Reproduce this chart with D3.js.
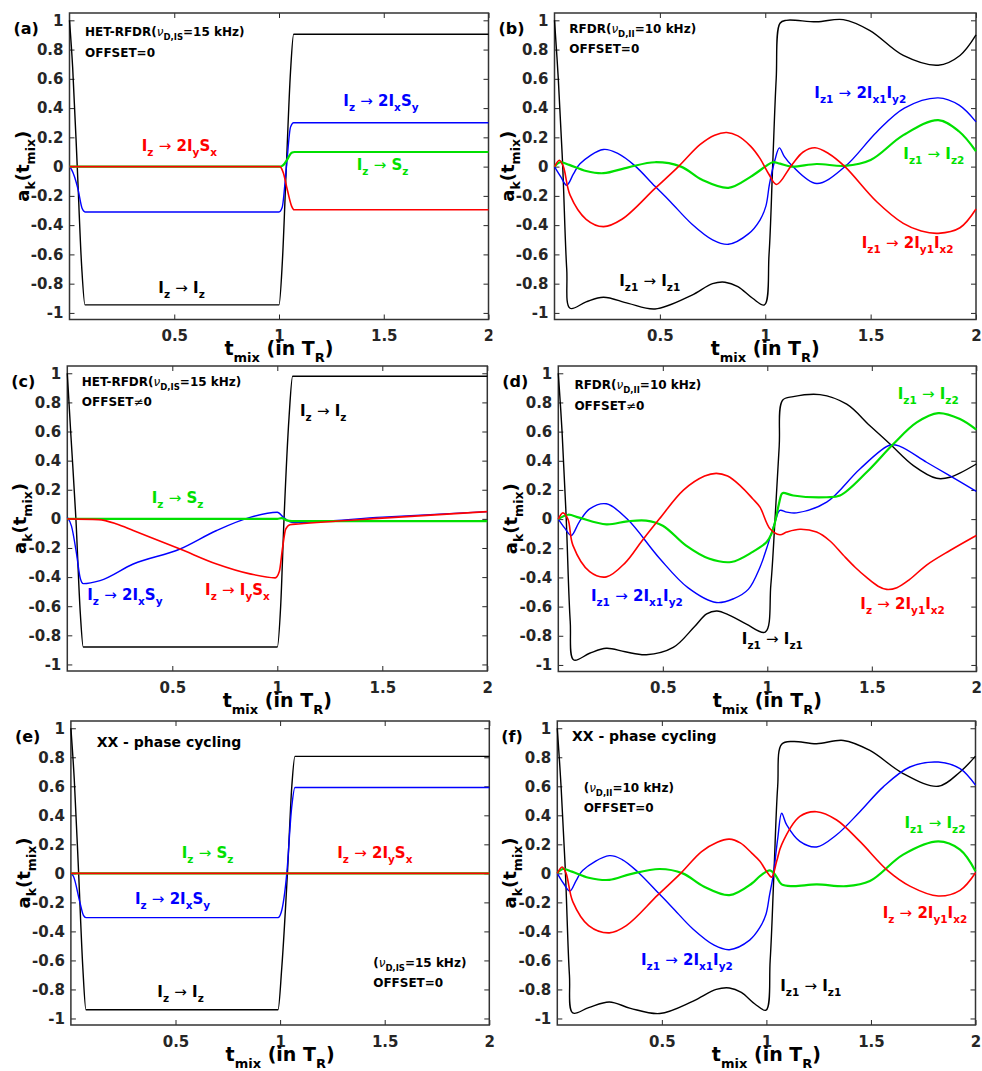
<!DOCTYPE html>
<html>
<head>
<meta charset="utf-8">
<script src="https://cdn.jsdelivr.net/npm/d3@7"></script>
<style>
  body { margin: 0; background: #fff; }
  text { font-family: "DejaVu Sans", sans-serif; font-weight: bold; white-space: pre; }
</style>
</head>
<body>
<div id="my_dataviz"></div>
<script>
// ---- data: [t_mix (in T_R), a_k] ----
// (a) HET-RFDR, offset 0
var aBlack = [[0,1],[0.015,0.68],[0.037,0],[0.058,-0.68],[0.074,-0.945],[1.0,-0.945],[1.016,-0.65],[1.035,0],[1.055,0.65],[1.07,0.905],[2,0.905]];
var aBlue  = [[0,0],[0.01,-0.02],[0.04,-0.15],[0.06,-0.285],[0.074,-0.31],[1.0,-0.31],[1.015,-0.28],[1.035,-0.01],[1.055,0.27],[1.07,0.3],[2,0.3]];
var aGreen = [[0,0],[1.005,0],[1.02,0.01],[1.04,0.05],[1.06,0.095],[1.075,0.1],[2,0.1]];
var aRed   = [[0,0],[1.003,0],[1.02,-0.04],[1.04,-0.16],[1.06,-0.27],[1.072,-0.295],[2,-0.295]];

// (b) RFDR, offset 0
var bBlack = [[0,1],[0.018,0.6],[0.039,0],[0.058,-0.7],[0.074,-0.968],[0.15,-0.925],[0.232,-0.893],[0.35,-0.935],[0.477,-0.973],[0.65,-0.88],[0.75,-0.8],[0.809,-0.79],[0.87,-0.82],[0.94,-0.9],[0.996,-0.945],[1.018,-0.6],[1.035,0],[1.052,0.6],[1.07,0.98],[1.1,1.0],[1.244,0.99],[1.37,1.005],[1.497,0.93],[1.655,0.76],[1.821,0.693],[1.924,0.76],[2,0.9]];
var bBlue  = [[0,0],[0.03,-0.07],[0.058,-0.127],[0.09,-0.05],[0.121,0.02],[0.232,0.117],[0.3,0.09],[0.382,0.005],[0.477,-0.135],[0.55,-0.24],[0.65,-0.39],[0.75,-0.5],[0.825,-0.531],[0.92,-0.46],[0.975,-0.365],[1.003,-0.27],[1.02,-0.12],[1.045,0.04],[1.067,0.128],[1.09,0.07],[1.125,0.01],[1.244,-0.115],[1.378,0],[1.529,0.237],[1.66,0.4],[1.821,0.47],[1.92,0.42],[2,0.306]];
var bGreen = [[0,0],[0.026,0.03],[0.07,0.012],[0.15,-0.03],[0.232,-0.045],[0.35,-0.005],[0.477,0.03],[0.6,0],[0.7,-0.09],[0.825,-0.145],[0.93,-0.07],[1.0,0.0],[1.035,0.03],[1.07,0.02],[1.125,0],[1.244,0.018],[1.378,0.005],[1.5,0.045],[1.655,0.215],[1.821,0.318],[1.92,0.24],[2,0.105]];
var bRed   = [[0,0],[0.023,0.044],[0.042,0],[0.074,-0.195],[0.15,-0.36],[0.232,-0.41],[0.32,-0.36],[0.477,-0.149],[0.588,0],[0.69,0.15],[0.76,0.215],[0.817,0.233],[0.87,0.21],[0.93,0.14],[0.975,0.056],[1.015,-0.047],[1.054,-0.122],[1.125,0.01],[1.18,0.1],[1.236,0.129],[1.3,0.09],[1.378,0],[1.529,-0.24],[1.655,-0.388],[1.74,-0.44],[1.821,-0.456],[1.924,-0.418],[2,-0.29]];

// (c) HET-RFDR, offset != 0
var cBlack = [[0,1],[0.016,0.6],[0.041,0],[0.062,-0.65],[0.076,-0.88],[1.0,-0.88],[1.016,-0.6],[1.032,0],[1.056,0.7],[1.073,0.98],[2,0.98]];
var cBlue  = [[0,0.01],[0.02,-0.05],[0.044,-0.24],[0.062,-0.41],[0.076,-0.445],[0.156,-0.424],[0.314,-0.31],[0.537,-0.207],[0.711,-0.08],[0.87,0.01],[1.0,0.045],[1.03,0.01],[1.06,-0.02],[1.08,-0.025],[1.5,0.012],[2,0.05]];
var cGreen = [[0,0],[1.0,0],[1.02,0.005],[1.045,-0.01],[1.07,-0.015],[2,-0.015]];
var cRed   = [[0,0],[0.15,-0.005],[0.235,-0.035],[0.314,-0.08],[0.537,-0.207],[0.711,-0.31],[0.87,-0.378],[0.99,-0.405],[1.01,-0.36],[1.025,-0.2],[1.04,-0.07],[1.06,-0.04],[1.1,-0.035],[1.5,0.005],[2,0.05]];

// (d) RFDR, offset != 0
var dBlack = [[0,1],[0.018,0.6],[0.038,0],[0.057,-0.7],[0.074,-0.966],[0.15,-0.92],[0.23,-0.886],[0.32,-0.91],[0.421,-0.93],[0.55,-0.88],[0.65,-0.74],[0.71,-0.65],[0.759,-0.63],[0.82,-0.66],[0.9,-0.72],[0.99,-0.775],[1.017,-0.45],[1.037,0],[1.057,0.5],[1.073,0.815],[1.124,0.84],[1.252,0.854],[1.38,0.788],[1.491,0.64],[1.587,0.515],[1.699,0.367],[1.81,0.28],[1.874,0.287],[2,0.378]];
var dBlue  = [[0,0],[0.03,-0.06],[0.062,-0.112],[0.1,-0.02],[0.15,0.07],[0.23,0.105],[0.33,0],[0.485,-0.27],[0.62,-0.47],[0.756,-0.572],[0.84,-0.545],[0.91,-0.48],[0.965,-0.33],[0.997,-0.2],[1.037,-0.02],[1.06,0.06],[1.093,0.048],[1.14,0.043],[1.284,0.116],[1.443,0.344],[1.587,0.508],[1.635,0.499],[1.762,0.39],[1.858,0.31],[2,0.19]];
var dGreen = [[0,0],[0.047,0.03],[0.1,0.01],[0.23,-0.036],[0.33,-0.015],[0.42,-0.01],[0.5,-0.045],[0.61,-0.18],[0.72,-0.27],[0.828,-0.294],[0.93,-0.225],[0.997,-0.157],[1.02,-0.1],[1.037,-0.02],[1.055,0.1],[1.069,0.173],[1.077,0.18],[1.124,0.162],[1.284,0.15],[1.348,0.162],[1.475,0.321],[1.603,0.515],[1.715,0.663],[1.818,0.727],[1.922,0.686],[2,0.613]];
var dRed   = [[0,0],[0.022,0.043],[0.046,0],[0.07,-0.18],[0.15,-0.36],[0.23,-0.396],[0.32,-0.3],[0.4,-0.15],[0.483,0],[0.6,0.2],[0.7,0.295],[0.756,0.314],[0.81,0.295],[0.87,0.23],[0.93,0.14],[0.965,0.082],[1.013,-0.066],[1.06,-0.107],[1.093,-0.089],[1.156,-0.07],[1.236,-0.089],[1.3,-0.15],[1.364,-0.248],[1.42,-0.33],[1.475,-0.4],[1.53,-0.46],[1.571,-0.482],[1.62,-0.47],[1.68,-0.415],[1.762,-0.315],[1.874,-0.215],[2,-0.112]];

// (e) XX phase cycling, HET-RFDR
var eBlack = [[0,1],[0.016,0.65],[0.037,0],[0.057,-0.65],[0.072,-0.94],[0.99,-0.94],[1.008,-0.65],[1.035,0],[1.056,0.6],[1.071,0.806],[2,0.806]];
var eBlue  = [[0,0],[0.012,-0.02],[0.043,-0.2],[0.06,-0.29],[0.072,-0.305],[0.99,-0.305],[1.005,-0.27],[1.032,0],[1.055,0.45],[1.071,0.592],[2,0.592]];
var eGreen = [[0,0],[2,0]];
var eRed   = [[0,0],[2,0]];

// (f) XX phase cycling, RFDR
var fBlack = [[0,1],[0.018,0.6],[0.039,0],[0.058,-0.7],[0.074,-0.962],[0.15,-0.925],[0.249,-0.886],[0.35,-0.93],[0.49,-0.966],[0.65,-0.88],[0.76,-0.8],[0.823,-0.79],[0.88,-0.82],[0.945,-0.9],[0.998,-0.943],[1.018,-0.6],[1.036,0],[1.054,0.6],[1.073,0.89],[1.128,0.909],[1.24,0.893],[1.368,0.916],[1.495,0.847],[1.654,0.688],[1.822,0.6],[1.926,0.699],[2,0.808]];
var fBlue  = [[0,0],[0.03,-0.07],[0.06,-0.122],[0.09,-0.05],[0.121,0.02],[0.249,0.122],[0.31,0.095],[0.385,0.01],[0.48,-0.13],[0.55,-0.235],[0.65,-0.385],[0.75,-0.495],[0.823,-0.526],[0.92,-0.46],[0.969,-0.373],[0.998,-0.282],[1.015,-0.15],[1.033,-0.008],[1.055,0.25],[1.073,0.414],[1.097,0.334],[1.16,0.22],[1.24,0.182],[1.336,0.266],[1.447,0.425],[1.559,0.596],[1.686,0.733],[1.822,0.767],[1.926,0.722],[2,0.608]];
var fGreen = [[0,0],[0.026,0.03],[0.07,0.012],[0.15,-0.03],[0.249,-0.045],[0.35,-0.005],[0.49,0.03],[0.6,0],[0.7,-0.09],[0.823,-0.15],[0.93,-0.07],[0.969,-0.019],[1.017,0.02],[1.041,-0.008],[1.073,-0.076],[1.128,-0.088],[1.24,-0.076],[1.383,-0.088],[1.495,-0.053],[1.654,0.129],[1.822,0.22],[1.926,0.163],[2,0.015]];
var fRed   = [[0,0],[0.023,0.044],[0.042,0],[0.074,-0.195],[0.15,-0.36],[0.249,-0.41],[0.33,-0.36],[0.48,-0.15],[0.59,0],[0.69,0.15],[0.765,0.215],[0.823,0.236],[0.875,0.21],[0.93,0.14],[0.969,0.083],[1.0,0.015],[1.025,-0.026],[1.049,0.083],[1.073,0.198],[1.16,0.392],[1.24,0.425],[1.336,0.368],[1.447,0.22],[1.583,0.015],[1.686,-0.088],[1.822,-0.156],[1.926,-0.117],[2,0.004]];

// ticks
var xTicks = [0.5, 1, 1.5, 2];
var yTicks = [-1, -0.8, -0.6, -0.4, -0.2, 0, 0.2, 0.4, 0.6, 0.8, 1];

// colours, one per transfer
var black = "#000000", blue = "#0000ff", green = "#00e000", red = "#ff0000";

// panel layout: plot box [left, right, top, bottom]; smooth = oscillating curves
var panels = [
  { tag: "(a)", box: [69.5, 488.5, 13, 319.5], smooth: false,
    series: [[aBlack, black], [aBlue, blue], [aGreen, green], [aRed, red]],
    labels: [
      ["HET-RFDR(ν_{D,IS}=15 kHz)", 0.074, 0.894, black, "info"],
      ["OFFSET=0", 0.074, 0.751, black, "info"],
      ["I_{z} → 2I_{y}S_{x}", 0.345, 0.106, red],
      ["I_{z} → 2I_{x}S_{y}", 1.307, 0.413, blue],
      ["I_{z} → S_{z}", 1.371, -0.024, green],
      ["I_{z} → I_{z}", 0.424, -0.867, black]] },
  { tag: "(b)", box: [554.5, 976, 13, 319.5], smooth: true,
    series: [[bBlack, black], [bBlue, blue], [bGreen, green], [bRed, red]],
    labels: [
      ["RFDR(ν_{D,II}=10 kHz)", 0.070, 0.911, black, "info"],
      ["OFFSET=0", 0.070, 0.775, black, "info"],
      ["I_{z1} → 2I_{x1}I_{y2}", 1.233, 0.468, blue],
      ["I_{z1} → I_{z2}", 1.655, 0.051, green],
      ["I_{z1} → 2I_{y1}I_{x2}", 1.458, -0.556, red],
      ["I_{z1} → I_{z1}", 0.307, -0.816, black]] },
  { tag: "(c)", box: [67.3, 487.3, 366, 671], smooth: false,
    series: [[cBlack, black], [cBlue, blue], [cGreen, green], [cRed, red]],
    labels: [
      ["HET-RFDR(ν_{D,IS}=15 kHz)", 0.069, 0.914, black, "info"],
      ["OFFSET≠0", 0.069, 0.774, black, "info"],
      ["I_{z} → I_{z}", 1.108, 0.709, black],
      ["I_{z} → S_{z}", 0.402, 0.109, green],
      ["I_{z} → 2I_{x}S_{y}", 0.095, -0.556, blue],
      ["I_{z} → I_{y}S_{x}", 0.656, -0.522, red]] },
  { tag: "(d)", box: [558.3, 976.3, 366, 671.5], smooth: true,
    series: [[dBlack, black], [dBlue, blue], [dGreen, green], [dRed, red]],
    labels: [
      ["RFDR(ν_{D,II}=10 kHz)", 0.077, 0.891, black, "info"],
      ["OFFSET≠0", 0.077, 0.751, black, "info"],
      ["I_{z1} → I_{z2}", 1.624, 0.822, green],
      ["I_{z1} → 2I_{x1}I_{y2}", 0.156, -0.561, blue],
      ["I_{z} → 2I_{y1}I_{x2}", 1.445, -0.619, red],
      ["I_{z1} → I_{z1}", 0.878, -0.859, black]] },
  { tag: "(e)", box: [70.9, 489.3, 721, 1025], smooth: false,
    series: [[eBlack, black], [eBlue, blue], [eGreen, green], [eRed, red]],
    labels: [
      ["XX - phase cycling", 0.123, 0.868, black, "title"],
      ["I_{z} → S_{z}", 0.530, 0.109, green],
      ["I_{z} → 2I_{y}S_{x}", 1.273, 0.106, red],
      ["I_{z} → 2I_{x}S_{y}", 0.306, -0.212, blue],
      ["I_{z} → I_{z}", 0.413, -0.851, black],
      ["(ν_{D,IS}=15 kHz)", 1.445, -0.643, black, "info"],
      ["OFFSET=0", 1.445, -0.786, black, "info"]] },
  { tag: "(f)", box: [557.3, 975.5, 721, 1025], smooth: true,
    series: [[fBlack, black], [fBlue, blue], [fGreen, green], [fRed, red]],
    labels: [
      ["XX - phase cycling", 0.070, 0.909, black, "title"],
      ["(ν_{D,II}=10 kHz)", 0.126, 0.560, black, "info"],
      ["OFFSET=0", 0.126, 0.420, black, "info"],
      ["I_{z1} → I_{z2}", 1.660, 0.314, green],
      ["I_{z} → 2I_{y1}I_{x2}", 1.556, -0.309, red],
      ["I_{z1} → 2I_{x1}I_{y2}", 0.400, -0.631, blue],
      ["I_{z1} → I_{z1}", 1.066, -0.812, black]] }
];

// text sizes: [main, sub, sub shift]
var sizes = { species: [15, 10.5, 5], info: [12, 8.5, 4], title: [14, 10, 4] };

var svg = d3.select("#my_dataviz")
  .append("svg")
  .attr("width", 982)
  .attr("height", 1071);

svg.append("rect").attr("width", 982).attr("height", 1071).attr("fill", "#fff");

// write "I_{z} → S_{z}" style strings as tspans with subscripts
function rich(textSel, spec, size, subSize, shift) {
  var re = /_\{([^}]*)\}|([^_]+)/g, m, down = false;
  while ((m = re.exec(spec))) {
    if (m[1] !== undefined) {
      textSel.append("tspan").attr("font-size", subSize).attr("dy", down ? 0 : shift).text(m[1]);
      down = true;
    } else {
      m[2].split(/([→ν≠])/).forEach(function (part) {
        if (!part) return;
        var ts = textSel.append("tspan").attr("font-size", size).text(part);
        if (down) { ts.attr("dy", -shift); down = false; }
        if (/[→ν≠]/.test(part)) ts.attr("font-weight", "normal");
        if (part === "ν") ts.attr("font-style", "italic");
      });
    }
  }
}

var fmt = function (d) { return String(+d.toFixed(1)); };

panels.forEach(function (p) {
  var left = p.box[0], right = p.box[1], top = p.box[2], bottom = p.box[3];
  var g = svg.append("g");

  // white backing (covers bits of the neighbouring panel, as in the figure)
  g.append("rect")
    .attr("x", left - 62).attr("y", top - 3)
    .attr("width", right - left + 66).attr("height", bottom - top + 48)
    .attr("fill", "#fff");

  var x = d3.scaleLinear().domain([0, 2]).range([left, right]);
  var y = d3.scaleLinear().domain([-1.045, 1.05]).range([bottom, top]);

  // axes, ticks pointing in on all four sides
  var axL = g.append("g").attr("transform", "translate(" + left + ",0)")
    .call(d3.axisLeft(y).tickValues(yTicks).tickSize(-5).tickPadding(6).tickFormat(fmt));
  var axR = g.append("g").attr("transform", "translate(" + right + ",0)")
    .call(d3.axisRight(y).tickValues(yTicks).tickSize(-5).tickFormat(""));
  var axB = g.append("g").attr("transform", "translate(0," + bottom + ")")
    .call(d3.axisBottom(x).tickValues(xTicks).tickSize(-5).tickPadding(11).tickFormat(fmt));
  var axT = g.append("g").attr("transform", "translate(0," + top + ")")
    .call(d3.axisTop(x).tickValues(xTicks).tickSize(-5).tickFormat(""));
  [axL, axR, axB, axT].forEach(function (ax) {
    ax.select(".domain").remove();
    ax.selectAll("line").attr("stroke", "#262626");
    ax.selectAll("text")
      .attr("font-family", "DejaVu Sans").attr("font-weight", "bold")
      .attr("font-size", 15).attr("fill", "#262626");
  });

  // frame
  g.append("rect")
    .attr("x", left).attr("y", top)
    .attr("width", right - left).attr("height", bottom - top)
    .attr("fill", "none").attr("stroke", "#333").attr("stroke-width", 1.5);

  // curves
  var line = d3.line()
    .x(function (d) { return x(d[0]); })
    .y(function (d) { return y(d[1]); })
    .curve(p.smooth ? d3.curveCatmullRom.alpha(0.5) : d3.curveMonotoneX);
  p.series.forEach(function (s) {
    g.append("path")
      .datum(s[0])
      .attr("fill", "none")
      .attr("stroke", s[1])
      .attr("stroke-width", s[1] === green ? 2.2 : (s[1] === red ? 1.6 : 1.4))
      .attr("d", line);
  });

  // annotations
  p.labels.forEach(function (l) {
    var sz = sizes[l[4] || "species"];
    var t = g.append("text").attr("x", x(l[1])).attr("y", y(l[2])).attr("fill", l[3]);
    rich(t, l[0], sz[0], sz[1], sz[2]);
  });

  // axis titles
  var xt = g.append("text")
    .attr("x", (left + right) / 2).attr("y", bottom + 35.5)
    .attr("text-anchor", "middle").attr("fill", "#000");
  rich(xt, "t_{mix} (in T_{R})", 19, 13, 7);

  var yt = g.append("text")
    .attr("transform", "translate(" + (left - 41) + "," + ((top + bottom) / 2) + ") rotate(-90)")
    .attr("text-anchor", "middle").attr("fill", "#000");
  rich(yt, "a_{k}(t_{mix})", 18, 12.5, 6);

  // panel letter
  g.append("text")
    .attr("x", left - 56).attr("y", top + 20.5)
    .attr("font-family", "DejaVu Serif").attr("font-size", 16)
    .text(p.tag);
});
</script>
</body>
</html>
